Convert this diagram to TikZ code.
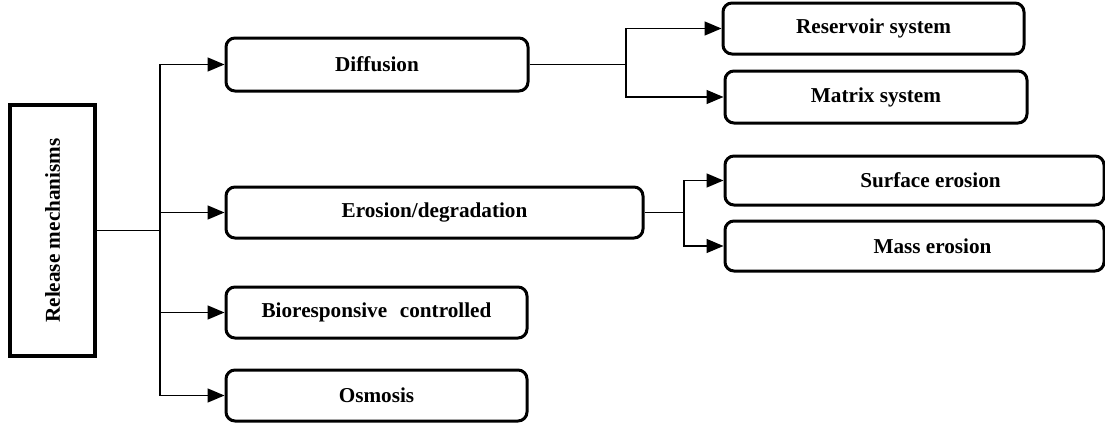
\documentclass[tikz,border=0pt]{standalone}
\usepackage{fontspec}
\setmainfont{Liberation Serif}
\usetikzlibrary{arrows.meta}
\begin{document}
\begin{tikzpicture}[x=0.5pt,y=-0.5pt,
  box/.style={draw, line width=1.5pt, rounded corners=4.5pt, inner sep=0pt,
    font=\fontsize{10.6}{12}\selectfont\bfseries},
  rootbox/.style={draw, line width=1.7pt, inner sep=0pt,
    font=\fontsize{10.6}{12}\selectfont\bfseries},
  arr/.style={line width=0.75pt, -{Triangle[length=8.5pt,width=7pt]}},
  conn/.style={line width=0.75pt}]
\useasboundingbox (0,0) rectangle (1105,423);
\node[rootbox, minimum width=42.5pt, minimum height=125.5pt] (rel) at (52.5,230.5)
  {\rotatebox{90}{Release mechanisms}};
\node[box, minimum width=151pt, minimum height=26.5pt] (diff) at (377,64.5) {Diffusion};
\node[box, minimum width=208.5pt, minimum height=25.5pt] (eros) at (434.5,212.5) {Erosion/degradation};
\node[box, minimum width=150.5pt, minimum height=25.5pt] (bio) at (376.5,312.5) {Bioresponsive\hspace{0.6em}controlled};
\node[box, minimum width=150.5pt, minimum height=25.5pt] (osm) at (376.5,395.5) {Osmosis};
\node[box, minimum width=150.5pt, minimum height=25.5pt] (res) at (873.5,28.5) {Reservoir system};
\node[box, minimum width=151pt, minimum height=26pt] (mat) at (876,97) {Matrix system};
\node[box, minimum width=189.5pt, minimum height=24.5pt] (surf) at (914.5,180.5) {\hspace{16pt}Surface erosion};
\node[box, minimum width=189.5pt, minimum height=25pt] (mass) at (914.5,246) {\hspace{18pt}Mass erosion};
\coordinate (t) at (160,230.5);
\coordinate (b1) at (626,64.5);
\coordinate (b2) at (684,212.5);
\draw[conn] (rel.east) -- (t);
\draw[arr] (t) |- (diff.west);
\draw[arr] (t) |- (eros.west);
\draw[arr] (t) |- (bio.west);
\draw[arr] (t) |- (osm.west);
\draw[conn] (diff.east) -- (b1);
\draw[arr] (b1) |- (res.west);
\draw[arr] (b1) |- (mat.west);
\draw[conn] (eros.east) -- (b2);
\draw[arr] (b2) |- (surf.west);
\draw[arr] (b2) |- (mass.west);
\end{tikzpicture}
\end{document}
